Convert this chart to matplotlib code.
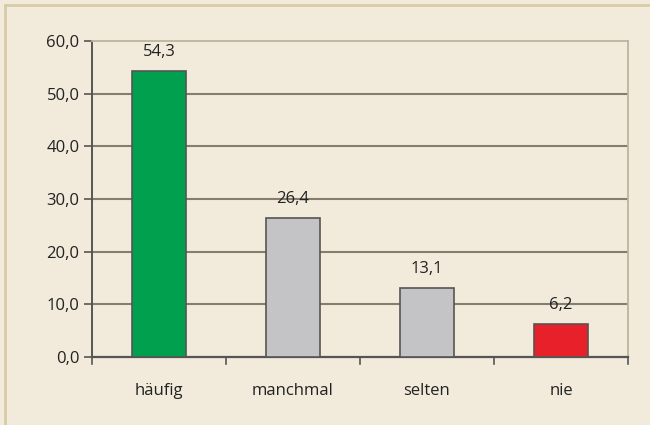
import matplotlib
matplotlib.use('Agg')
import matplotlib.pyplot as plt
from matplotlib.lines import Line2D
import numpy as np

categories = ["häufig", "manchmal", "selten", "nie"]
values = [54.3, 26.4, 13.1, 6.2]
colors = ["#00A04E", "#C4C4C6", "#C4C4C6", "#E8202A"]
yticks = [0, 10, 20, 30, 40, 50, 60]

plt.rcParams['font.family'] = ['Open Sans', 'DejaVu Sans']

bg = "#F2EBDC"
fig = plt.figure(figsize=(6.5, 4.25), dpi=100, facecolor=bg)
ax = fig.add_axes([92 / 650, 1 - 357 / 425, 536 / 650, 316 / 425])
ax.set_facecolor(bg)

# frame of the figure (top and left only)
fig.add_artist(Line2D([5 / 650, 5 / 650], [0, 1 - 5 / 425], transform=fig.transFigure,
                      color="#D8CBA8", lw=2))
fig.add_artist(Line2D([5 / 650, 1], [1 - 5 / 425, 1 - 5 / 425], transform=fig.transFigure,
                      color="#D8CBA8", lw=2))

x = np.arange(len(categories))
for t in yticks[1:-1]:
    ax.axhline(t, color="#847E6C", lw=1.5, zorder=1)

bars = ax.bar(x, values, width=0.41, color=colors, edgecolor="#555555", linewidth=1.2, zorder=3)
ax.bar_label(bars, labels=[f"{v:.1f}".replace(".", ",") for v in values],
             padding=8, fontsize=12, color="#222222")

ax.set_xlim(-0.5, len(categories) - 0.5)
ax.set_ylim(0, 60)
ax.set_yticks(yticks)
ax.set_yticklabels([f"{t:.1f}".replace(".", ",") for t in yticks], fontsize=12, color="#222222")
ax.set_xticks(x)
ax.set_xticklabels(categories, fontsize=12, color="#222222")
ax.tick_params(axis='x', length=0, pad=19)
ax.tick_params(axis='y', length=6, width=1.2, color="#555555", pad=3)

# category boundary ticks on the x axis
for b in np.arange(-0.5, len(categories), 1.0):
    ax.plot([b, b], [0, -1.3], color="#555555", lw=1.2, clip_on=False, zorder=4)

for s in ["top", "right"]:
    ax.spines[s].set_color("#BDB49E")
    ax.spines[s].set_linewidth(1.3)
ax.spines["left"].set_color("#555555")
ax.spines["left"].set_linewidth(1.4)
ax.spines["bottom"].set_color("#555555")
ax.spines["bottom"].set_linewidth(1.6)

fig.savefig("out.png", dpi=100, facecolor=bg)
